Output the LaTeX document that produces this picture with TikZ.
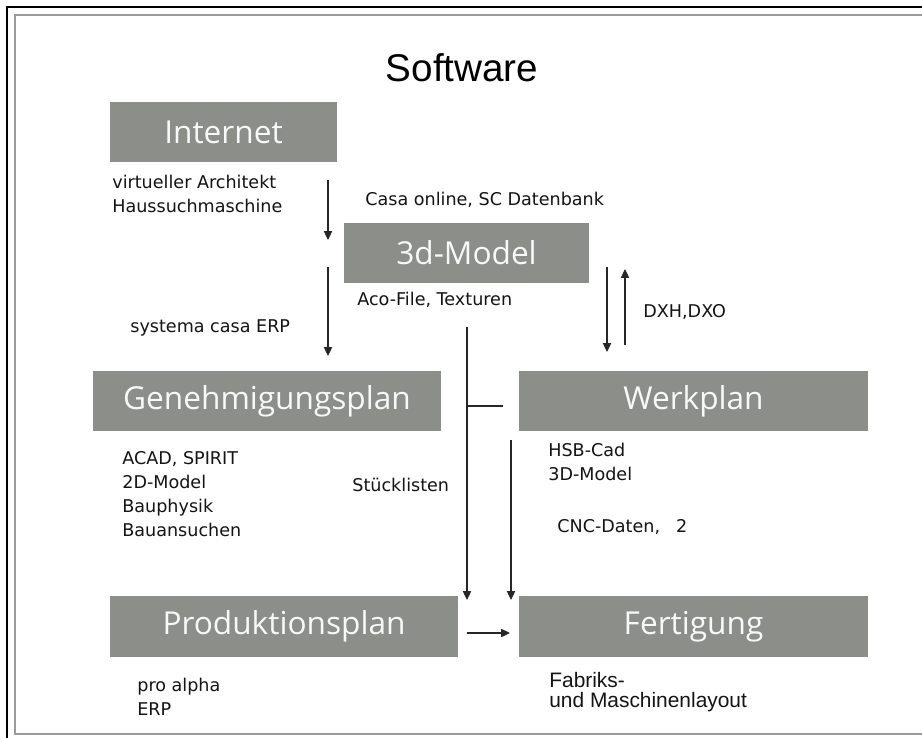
\documentclass[tikz,border=0pt]{standalone}
\usepackage{fontspec}
\usepackage{tikz}
\usetikzlibrary{arrows.meta}
\newfontfamily\lblfont{DejaVu Sans}
\newfontfamily\boxfont{Open Sans}
\newfontfamily\arialfont{Liberation Sans}
\definecolor{boxgray}{RGB}{139,142,137}
\definecolor{framegray}{RGB}{155,155,155}

\begin{document}
\begin{tikzpicture}[x=0.02cm,y=-0.02cm,
  stepbox/.style={fill=boxgray,text=white!94!boxgray,inner sep=0pt,minimum height=1.2cm,
    font=\boxfont\fontsize{18}{20}\selectfont},
  lbl/.style={anchor=west,inner sep=0pt,align=left,text=black!92,
    font=\lblfont\fontsize{10}{13.6}\selectfont},
  flow/.style={draw=black!85,line width=0.75pt,-{Triangle[length=5pt,width=4.6pt]}},
  plain/.style={draw=black!85,line width=0.75pt}]

  \clip (0,0) rectangle (922,737);
  \fill[white] (0,0) rectangle (922,737);

  % frame
  \draw[line width=1.1pt] (7,7) rectangle (960,770);
  \draw[framegray,line width=1.3pt] (15,15) rectangle (950,734);

  % title
  \node[font=\arialfont\fontsize{22}{24}\selectfont] (title) at (462,68) {Software};

  % the boxes
  \node[stepbox,minimum width=4.54cm] (inet) at (223.5,132) {Internet};
  \node[stepbox,minimum width=4.90cm] (model) at (466.5,253) {3d-Model};
  \node[stepbox,minimum width=6.96cm] (geneh) at (267,401) {Genehmigungsplan};
  \node[stepbox,minimum width=6.98cm] (werk) at (693.5,401) {Werkplan};
  \node[stepbox,minimum width=6.96cm,minimum height=1.22cm] (prod) at (284,626.5) {Produktionsplan};
  \node[stepbox,minimum width=6.98cm,minimum height=1.22cm] (fert) at (693.5,626.5) {Fertigung};

  % labels
  \node[lbl] (virt) at (112,193.5) {virtueller Architekt\\Haussuchmaschine};
  \node[lbl] (casa) at (365,200) {Casa online, SC Datenbank};
  \node[lbl] (aco) at (357,300) {Aco-File, Texturen};
  \node[lbl] (erp) at (130,328) {systema casa ERP};
  \node[lbl] (dxh) at (643,312) {DXH,DXO};
  \node[lbl] (acad) at (122,494) {ACAD, SPIRIT\\2D-Model\\Bauphysik\\Bauansuchen};
  \node[lbl] (stueck) at (352,485) {St\"ucklisten};
  \node[lbl] (hsb) at (548,461.5) {HSB-Cad\\3D-Model};
  \node[lbl] (cnc) at (557,527) {CNC-Daten, \hspace{6pt}2};
  \node[lbl] (alpha) at (137,697) {pro alpha\\ERP};
  \node[lbl,font=\arialfont\fontsize{11.9}{11.4}\selectfont] (fabrik) at (549,692) {Fabriks-\\und Maschinenlayout};

  % arrow ends
  \coordinate (a1s) at (328,180); \coordinate (a1e) at (328,240);
  \coordinate (a2s) at (328,267); \coordinate (a2e) at (328,356);
  \coordinate (a3s) at (607,267); \coordinate (a3e) at (607,352);
  \coordinate (a4s) at (625,345); \coordinate (a4e) at (625,269);
  \coordinate (a5s) at (467,327); \coordinate (a5e) at (467,600);
  \coordinate (b5) at (467,406);  \coordinate (b5e) at (503,406);
  \coordinate (a6s) at (511,440); \coordinate (a6e) at (511,600);
  \coordinate (a7s) at (467,633); \coordinate (a7e) at (510,633);

  % draw the arrows
  \foreach \s/\e in {a1s/a1e,a2s/a2e,a3s/a3e,a4s/a4e,a5s/a5e,a6s/a6e,a7s/a7e}
    \draw[flow] (\s) -- (\e);
  \draw[plain] (b5) -- (b5e);
\end{tikzpicture}
\end{document}
